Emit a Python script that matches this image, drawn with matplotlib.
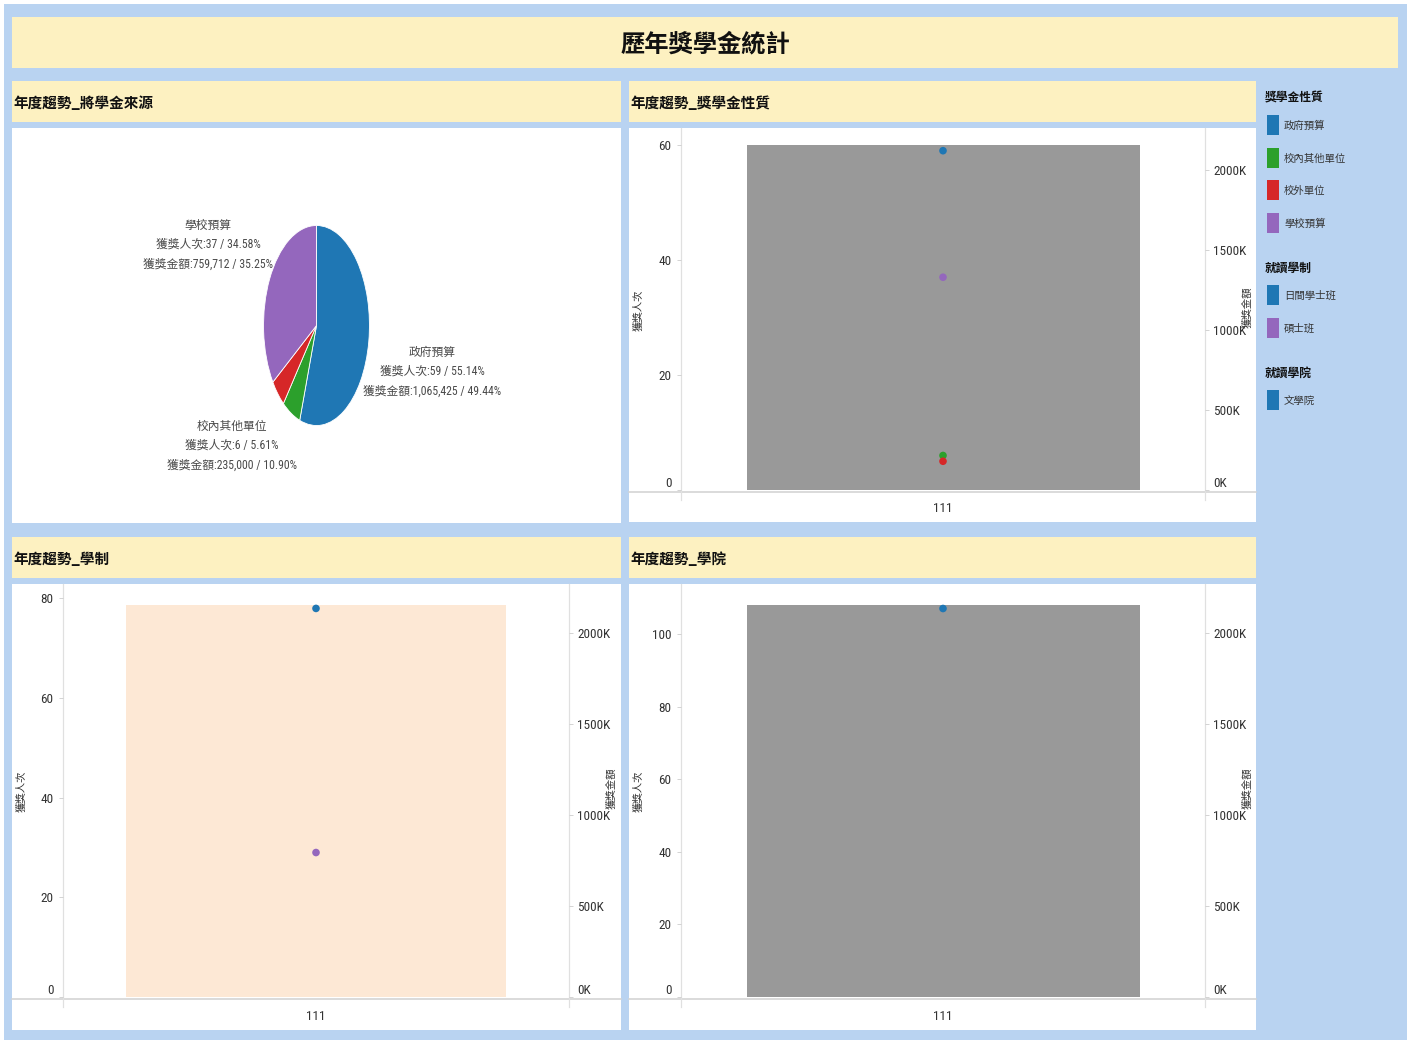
import matplotlib
matplotlib.use("Agg")
import matplotlib.pyplot as plt
from matplotlib.patches import Rectangle
from matplotlib.lines import Line2D
from matplotlib import font_manager

plt.rcParams['font.family'] = ['Noto Sans CJK TC', 'DejaVu Sans']

# ---------------- data ----------------
years = ['111']
source_names = ['政府預算', '校內其他單位', '校外單位', '學校預算']
source_counts = [59, 6, 5, 37]
source_amounts = [1065425, 235000, 94863, 759712]
source_colors = ['#1f77b4', '#2ca02c', '#d62728', '#9467bd']

degree_names = ['日間學士班', '碩士班']
degree_counts = [78, 29]
degree_colors = ['#1f77b4', '#9467bd']

college_names = ['文學院']
college_counts = [107]
college_colors = ['#1f77b4']

total_amount = [sum(source_amounts)]

count_ticks_nature = [0, 20, 40, 60]
count_ticks_degree = [0, 20, 40, 60, 80]
count_ticks_college = [0, 20, 40, 60, 80, 100]
amount_ticks = [0, 500000, 1000000, 1500000, 2000000]

# ---------------- fonts ----------------
installed = {f.name for f in font_manager.fontManager.ttflist}
narrow_choice = None
for cand in ['Liberation Sans Narrow', 'DejaVu Sans Condensed', 'Roboto Condensed',
             'Open Sans Condensed']:
    if cand in installed:
        narrow_choice = cand
        break
NARROW = ([narrow_choice] if narrow_choice else []) + ['Noto Sans CJK TC', 'DejaVu Sans']
NS = 0 if narrow_choice else -1.0   # size adjustment if no narrow font

# ---------------- layout helpers ----------------
W, H = 1415, 1043
fig = plt.figure(figsize=(W / 100, H / 100), dpi=100)
fig.patch.set_facecolor('white')

BLUE_BG = '#b9d3f1'
YELLOW = '#fdf1c1'
TXT = '#333333'


def rect(x0, y0, x1, y1, color, z=-5):
    fig.add_artist(Rectangle((x0 / W, 1 - y1 / H), (x1 - x0) / W, (y1 - y0) / H,
                             transform=fig.transFigure, facecolor=color,
                             edgecolor='none', zorder=z))


def line(x0, y0, x1, y1, color='#d9d9d9', lw=1.0):
    fig.add_artist(Line2D([x0 / W, x1 / W], [1 - y0 / H, 1 - y1 / H],
                          transform=fig.transFigure, color=color, lw=lw, zorder=-3))


def ftext(x, y, s, **kw):
    fig.text(x / W, 1 - y / H, s, **kw)


def axes_px(x0, y0, x1, y1):
    return fig.add_axes([x0 / W, 1 - y1 / H, (x1 - x0) / W, (y1 - y0) / H])


# background
rect(4, 4, 1407, 1040, BLUE_BG, z=-10)
# title banner
rect(12, 17, 1398, 68, YELLOW)
ftext(705, 44, '歷年獎學金統計', ha='center', va='center', fontsize=17.5,
      fontweight='bold', color='#111111')

# panel headers / contents
panels = {
    'tl': (12, 621, 81, 122, 128, 523, '年度趨勢_將學金來源'),
    'tr': (629, 1256, 81, 122, 128, 522, '年度趨勢_獎學金性質'),
    'bl': (12, 621, 537, 578, 584, 1030, '年度趨勢_學制'),
    'br': (629, 1256, 537, 578, 584, 1030, '年度趨勢_學院'),
}
for key, (x0, x1, hy0, hy1, cy0, cy1, title) in panels.items():
    rect(x0, hy0, x1, hy1, YELLOW)
    rect(x0, cy0, x1, cy1, 'white')
    ftext(x0 + 1, (hy0 + hy1) / 2 + 1, title, ha='left', va='center',
          fontsize=10.5, fontweight='bold', color='#111111')

# ---------------- pie ----------------
axp = axes_px(12, 128, 621, 523)
axp.set_facecolor('none')
axp.pie(source_counts, colors=source_colors, startangle=90, counterclock=False,
        radius=1.0, wedgeprops=dict(linewidth=0.6, edgecolor='white'))
axp.set_aspect('auto')
axp.set_xlim(-5.75, 5.75)
axp.set_ylim(-1.975, 1.975)
axp.axis('off')

tot_c = sum(source_counts)
tot_a = sum(source_amounts)
label_pos = {0: (2.19, -0.46), 3: (-2.05, 0.81), 1: (-1.6, -1.2)}
for i, (lx, ly) in label_pos.items():
    s = (f"{source_names[i]}\n獲獎人次:{source_counts[i]} / {source_counts[i] / tot_c * 100:.2f}%\n"
         f"獲獎金額:{source_amounts[i]:,} / {source_amounts[i] / tot_a * 100:.2f}%")
    axp.text(lx, ly, s, ha='center', va='center', fontsize=8.5 + NS * 0.8,
             color='#4a4a4a', linespacing=1.65, family=NARROW, clip_on=False)


# ---------------- dual-axis bar + dot charts ----------------
def dual_chart(box, bar_color, counts, colors, count_ticks, count_max, amount_max,
               panel):
    x0, y0, x1, y1 = box
    ax = axes_px(x0, y0, x1, y1)        # amount axis (bar), ticks on right
    ax.set_facecolor('none')
    ax.bar(range(len(years)), total_amount, width=0.75, color=bar_color, zorder=1)
    ax.set_xlim(-0.5, 0.5)
    ax.set_ylim(0, amount_max)

    ax2 = ax.twinx()                     # count axis (dots), ticks on left
    ax2.set_facecolor('none')
    ax2.scatter([0] * len(counts), counts, s=30, c=colors, zorder=3,
                edgecolors='none')
    ax2.set_xlim(-0.5, 0.5)
    ax2.set_ylim(0, count_max)

    ax.yaxis.tick_right()
    ax2.yaxis.tick_left()

    ax.set_yticks(amount_ticks)
    ax.set_yticklabels([f"{int(v / 1000)}K" for v in amount_ticks])
    ax.set_xticks(range(len(years)))
    ax.set_xticklabels(years)
    ax.tick_params(axis='x', length=0, pad=9, labelsize=9.5 + NS, labelcolor=TXT)
    ax.tick_params(axis='y', length=3, width=0.6, color='#cccccc', pad=3,
                   labelsize=9.5 + NS, labelcolor=TXT)
    for lab in ax.get_xticklabels() + ax.get_yticklabels():
        lab.set_family(NARROW)
    ax.get_yticklabels()[0].set_va('bottom')

    ax2.set_yticks(count_ticks)
    ax2.set_yticklabels([str(v) for v in count_ticks])
    ax2.tick_params(axis='y', length=3, width=0.6, color='#cccccc', pad=4,
                    labelsize=9.5 + NS, labelcolor=TXT)
    for lab in ax2.get_yticklabels():
        lab.set_family(NARROW)
    ax2.get_yticklabels()[0].set_va('bottom')

    for a in (ax, ax2):
        for sp in a.spines.values():
            sp.set_visible(False)

    px0, px1 = panel[0], panel[1]
    cy0 = panel[4]
    # axis frame lines
    line(px0, y1 + 2, px1, y1 + 2, '#d4d4d4', 1.2)
    line(x0, cy0, x0, y1 + 10, '#e0e0e0', 0.9)
    line(x1, cy0, x1, y1 + 10, '#e0e0e0', 0.9)
    # axis titles
    ymid = (y0 + y1) / 2
    ftext(px0 + 9, ymid, '獲獎人次', rotation=90, ha='center', va='center',
          fontsize=7.5, color=TXT)
    ftext(x1 + 42, ymid - 3, '獲獎金額', rotation=90, ha='center', va='center',
          fontsize=7.5, color=TXT)
    return ax, ax2


dual_chart((681, 130, 1205, 490), '#999999', source_counts, source_colors,
           count_ticks_nature, 62.6, 2250000, panels['tr'])
dual_chart((63, 586, 569, 997), '#fde8d5', degree_counts, degree_colors,
           count_ticks_degree, 82.5, 2258000, panels['bl'])
dual_chart((681, 586, 1205, 997), '#999999', college_counts, college_colors,
           count_ticks_college, 113.2, 2258000, panels['br'])

# ---------------- legends ----------------
legend_groups = [
    ('獎學金性質', source_names, source_colors, 98),
    ('就讀學制', degree_names, degree_colors, 268),
    ('就讀學院', college_names, college_colors, 373),
]
for title, names, cols, ty in legend_groups:
    ftext(1265, ty, title, ha='left', va='center', fontsize=8.5,
          fontweight='bold', color='#111111')
    for k, (n, c) in enumerate(zip(names, cols)):
        yc = ty + 27 + k * 32.5
        rect(1267, yc - 10, 1279, yc + 10, c, z=-2)
        ftext(1284, yc + 1, n, ha='left', va='center', fontsize=7.5, color=TXT)

fig.savefig('out.png', dpi=100, facecolor='white')
